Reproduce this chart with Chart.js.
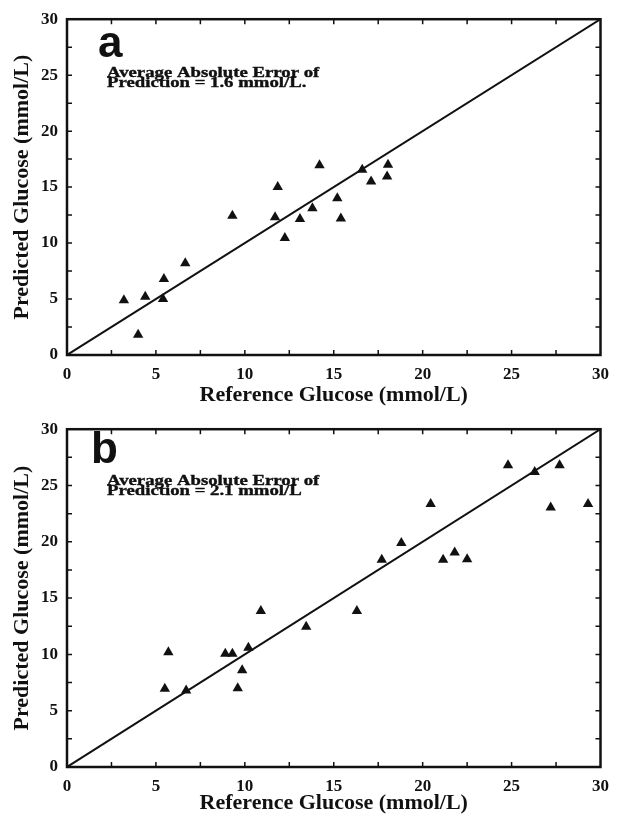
<!DOCTYPE html>
<html>
<head>
<meta charset="utf-8">
<script src="https://cdn.jsdelivr.net/npm/chart.js@4/dist/chart.umd.min.js"></script>
<style>
  body { margin: 0; background: #fff; width: 618px; height: 814px; overflow: hidden; position: relative; }
  canvas { position: absolute; left: 0; }
  #chartA { top: 0; }
  #chartB { top: 410px; }
</style>
</head>
<body>
<canvas id="chartA" width="618" height="410"></canvas>
<canvas id="chartB" width="618" height="410"></canvas>
<script>
// panel a: reference vs predicted glucose (mmol/L)
const refA  = [3.2, 4.0, 4.4, 5.4, 5.45, 6.65, 9.3, 11.7, 11.85, 12.25, 13.1, 13.8, 14.2, 15.2, 15.4, 16.6, 17.1, 18.0, 18.05];
const predA = [4.9, 1.8, 5.2, 5.0, 6.8, 8.2, 12.45, 12.3, 15.0, 10.45, 12.15, 13.1, 16.95, 14.0, 12.2, 16.55, 15.5, 15.95, 17.0];

// panel b
const refB  = [5.5, 5.7, 6.7, 8.9, 9.3, 9.6, 9.85, 10.2, 10.9, 13.45, 16.3, 17.7, 18.8, 20.45, 21.15, 21.8, 22.5, 24.8, 26.3, 27.2, 27.7, 29.3];
const predB = [6.95, 10.2, 6.8, 10.05, 10.05, 7.0, 8.6, 10.6, 13.85, 12.45, 13.85, 18.4, 19.9, 23.35, 18.4, 19.05, 18.45, 26.8, 26.2, 23.05, 26.8, 23.35];

// identity line and axis range
const identity = [0, 30];
const axisMin = 0;
const axisMax = 30;
const majorStep = 5;
const minorStep = 2.5;

const xTitle = 'Reference Glucose (mmol/L)';
const yTitle = 'Predicted Glucose (mmol/L)';
const errorA = ['Average Absolute Error of', 'Prediction = 1.6 mmol/L.'];
const errorB = ['Average Absolute Error of', 'Prediction = 2.1 mmol/L'];

const SERIF = "'Liberation Serif', 'Times New Roman', serif";

// box + inward ticks on every side, and the panel letter / note
const framePlugin = {
    id: 'frame',
    afterDraw(chart, args, opts) {
        const {ctx, chartArea: a, scales} = chart;
        ctx.save();
        ctx.strokeStyle = '#111';
        ctx.lineWidth = 2.5;
        ctx.strokeRect(a.left, a.top, a.right - a.left, a.bottom - a.top);
        ctx.lineWidth = 1.5;
        ctx.beginPath();
        for (let v = axisMin + minorStep; v < axisMax; v += minorStep) {
            const px = scales.x.getPixelForValue(v);
            const py = scales.y.getPixelForValue(v);
            ctx.moveTo(px, a.bottom); ctx.lineTo(px, a.bottom - 5);
            ctx.moveTo(px, a.top); ctx.lineTo(px, a.top + 5);
            ctx.moveTo(a.left, py); ctx.lineTo(a.left + 5, py);
            ctx.moveTo(a.right, py); ctx.lineTo(a.right - 5, py);
        }
        ctx.stroke();

        // panel letter
        ctx.fillStyle = '#111';
        ctx.textBaseline = 'alphabetic';
        ctx.font = "bold 44px 'Liberation Sans', Arial, sans-serif";
        ctx.fillText(opts.letter, a.left + opts.letterX, a.top + opts.letterY);

        // note, slightly widened like the scanned figure
        ctx.font = 'bold 15px ' + SERIF;
        ctx.strokeStyle = '#111';
        ctx.lineWidth = 0.4;
        opts.note.forEach((line, i) => {
            ctx.save();
            ctx.translate(a.left + 40, a.top + opts.noteY + i * 10);
            ctx.scale(1.25, 1);
            ctx.fillText(line, 0, 0);
            ctx.strokeText(line, 0, 0);
            ctx.restore();
        });
        ctx.restore();
    }
};

function makeChart(id, ref, pred, letter, note, lay) {
    const points = ref.map((x, i) => ({x: x, y: pred[i]}));
    const line = identity.map(v => ({x: v, y: v}));

    return new Chart(document.getElementById(id), {
        type: 'scatter',
        data: {
            datasets: [
                {
                    data: line,
                    type: 'line',
                    borderColor: '#111',
                    borderWidth: 2,
                    pointRadius: 0,
                    fill: false
                },
                {
                    data: points,
                    pointStyle: 'triangle',
                    pointRadius: 6,
                    backgroundColor: '#111',
                    borderColor: '#111',
                    borderWidth: 0
                }
            ]
        },
        options: {
            responsive: false,
            animation: false,
            events: [],
            layout: { padding: { left: 0, right: 14, top: lay.top, bottom: 0 } },
            plugins: {
                legend: { display: false },
                tooltip: { enabled: false },
                frame: { letter: letter, letterX: lay.letterX, letterY: lay.letterY, note: note, noteY: lay.noteY }
            },
            scales: {
                x: {
                    type: 'linear',
                    min: axisMin,
                    max: axisMax,
                    afterFit: (s) => { s.height = lay.xHeight; },
                    grid: { display: false, drawTicks: false },
                    border: { display: false },
                    ticks: {
                        stepSize: majorStep,
                        padding: 9,
                        color: '#111',
                        maxRotation: 0,
                        font: { family: SERIF, size: 17, weight: 'bold' }
                    },
                    title: {
                        display: true,
                        text: xTitle,
                        color: '#111',
                        padding: { top: 0, bottom: lay.titlePad },
                        font: { family: SERIF, size: 22, weight: 'bold', lineHeight: 1 }
                    }
                },
                y: {
                    type: 'linear',
                    min: axisMin,
                    max: axisMax,
                    afterFit: (s) => { s.width = 67; },
                    grid: { display: false, drawTicks: false },
                    border: { display: false },
                    ticks: {
                        stepSize: majorStep,
                        padding: 9,
                        color: '#111',
                        font: { family: SERIF, size: 17, weight: 'bold' }
                    },
                    title: {
                        display: true,
                        text: yTitle,
                        color: '#111',
                        padding: { top: 11, bottom: 0 },
                        font: { family: SERIF, size: 22, weight: 'bold', lineHeight: 1 }
                    }
                }
            }
        },
        plugins: [framePlugin]
    });
}

makeChart('chartA', refA, predA, 'a', errorA,
    { top: 17, xHeight: 55, titlePad: 4, letterX: 31, letterY: 38, noteY: 58 });
makeChart('chartB', refB, predB, 'b', errorB,
    { top: 19, xHeight: 53, titlePad: 6, letterX: 24, letterY: 34, noteY: 56 });
</script>
</body>
</html>
